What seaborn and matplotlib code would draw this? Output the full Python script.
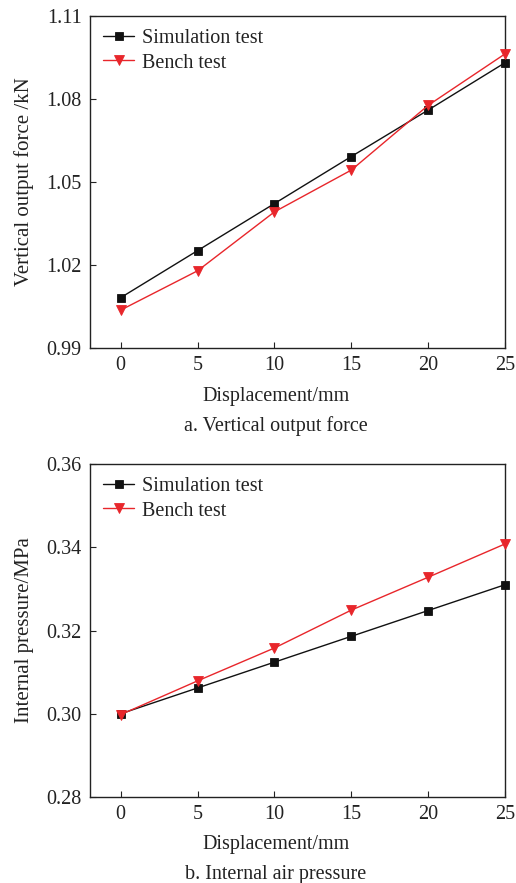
import numpy as np
import pandas as pd
import seaborn as sns
import matplotlib.pyplot as plt

# displacement points (mm)
disp = [0, 5, 10, 15, 20, 25]

# a. vertical output force (kN)
force_sim = [1.0082, 1.0252, 1.0422, 1.0592, 1.0760, 1.0931]
force_bench = [1.0037, 1.0179, 1.0392, 1.0543, 1.0777, 1.0963]

# b. internal air pressure (MPa)
press_sim = [0.3000, 0.3062, 0.3124, 0.3186, 0.3248, 0.3310]
press_bench = [0.2998, 0.3079, 0.3158, 0.3249, 0.3328, 0.3408]

sns.set_theme(style="ticks")
plt.rcParams["font.family"] = ["Liberation Serif", "DejaVu Serif"]

fig = plt.figure(figsize=(5.16, 8.83), dpi=100)
ax1 = fig.add_axes([0.1744, 0.6059, 0.8043, 0.3760])
ax2 = fig.add_axes([0.1744, 0.0974, 0.8043, 0.3771])

FS = 14.5
INK = "#222222"


def draw(ax, sim, bench, ylim, yticks, ylabel, caption, cap_y, lab_y):
    df = pd.DataFrame({"disp": disp * 2,
                       "val": sim + bench,
                       "kind": ["Simulation test"] * 6 + ["Bench test"] * 6})
    sns.lineplot(data=df, x="disp", y="val", hue="kind", style="kind",
                 markers={"Simulation test": "s", "Bench test": "v"},
                 dashes=False,
                 palette={"Simulation test": "#111111", "Bench test": "#e8262b"},
                 markersize=6, linewidth=1.0, markeredgewidth=0.6,
                 ax=ax, clip_on=False, zorder=3)
    for l in ax.lines:
        l.set_markeredgecolor(l.get_color())
        l.set_markersize(5.5 if l.get_marker() == "s" else 6.8)
    ax.set_xlim(-2, 25)
    ax.set_ylim(*ylim)
    ax.set_xticks(disp)
    ax.set_yticks(yticks)
    ax.set_yticklabels([f"{v:.2f}" for v in yticks])
    ax.tick_params(direction="in", length=4, width=0.8, labelsize=FS,
                   colors=INK, pad=6)
    ax.tick_params(axis="y", pad=6)
    for s in ax.spines.values():
        s.set_linewidth(1.0)
        s.set_color(INK)
    ax.set_xlabel("")
    ax.set_ylabel(ylabel, fontsize=15, color=INK, labelpad=9)
    fig.text(0.535, lab_y, "Displacement/mm", ha="center", va="center",
             fontsize=FS, color=INK)
    fig.text(0.535, cap_y, caption, ha="center", va="center",
             fontsize=FS, color=INK)
    leg = ax.legend(loc="upper left", frameon=False, fontsize=FS,
                    handlelength=1.55, borderaxespad=0.25, labelspacing=0.26,
                    handletextpad=0.4)
    for h in leg.legend_handles:
        h.set_markeredgecolor(h.get_color())
        h.set_markersize(5.5 if h.get_marker() == "s" else 6.8)
    for t in leg.get_texts():
        t.set_color(INK)


draw(ax1, force_sim, force_bench, (0.99, 1.11), [0.99, 1.02, 1.05, 1.08, 1.11],
     "Vertical output force /kN", "a. Vertical output force",
     1 - 425.7 / 883, 1 - 396.7 / 883)
draw(ax2, press_sim, press_bench, (0.28, 0.36), [0.28, 0.30, 0.32, 0.34, 0.36],
     "Internal pressure/MPa", "b. Internal air pressure",
     1 - 874 / 883, 1 - 845 / 883)

fig.savefig("out.png", dpi=100)
